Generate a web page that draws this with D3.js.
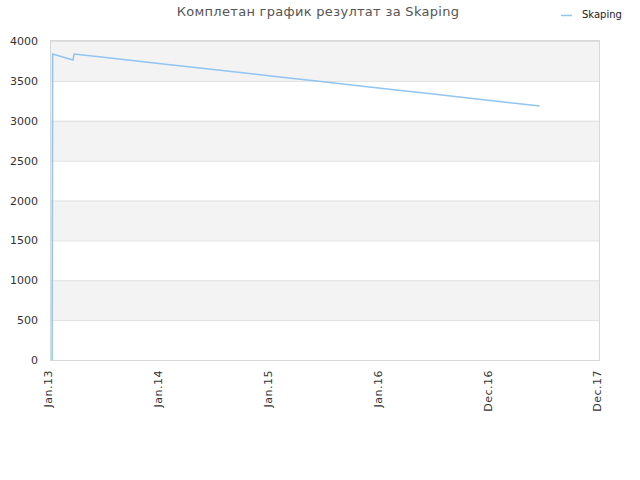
<!DOCTYPE html>
<html>
<head>
<meta charset="utf-8">
<title>Skaping</title>
<script src="https://d3js.org/d3.v7.min.js"></script>
<style>
  body { margin: 0; background: #fff; }
  svg { font-family: "DejaVu Sans", sans-serif; }
</style>
</head>
<body>
<svg id="chart" width="640" height="480"></svg>
<script>
// x values are positions on the tick axis (0 = Jan.13, 1 = Jan.14, ...)
let tickLabels = ["Jan.13", "Jan.14", "Jan.15", "Jan.16", "Dec.16", "Dec.17"];
let yTicks = [0, 500, 1000, 1500, 2000, 2500, 3000, 3500, 4000];
let posX = [0.01, 0.015, 0.2, 0.21, 0.5, 1.0, 1.5, 2.0, 2.5, 3.0, 3.5, 4.0, 4.45];
let scores = [0, 3837, 3762, 3837, 3792, 3715, 3639, 3562, 3485, 3408, 3331, 3254, 3185];

let svg = d3.select("#chart");
let m = {left: 51, right: 600, top: 41, bottom: 360};

let x = d3.scaleLinear().domain([0, 5]).range([m.left, m.right]);
let y = d3.scaleLinear().domain([0, 4000]).range([m.bottom, m.top]);

// alternating bands
for (let i = 1; i < yTicks.length; i += 2) {
    svg.append("rect")
        .attr("x", m.left).attr("width", m.right - m.left)
        .attr("y", y(yTicks[i + 1])).attr("height", y(yTicks[i]) - y(yTicks[i + 1]))
        .attr("fill", "#f3f3f3");
}

svg.selectAll(".grid").data(yTicks).enter().append("line")
    .attr("x1", m.left).attr("x2", m.right)
    .attr("y1", d => y(d) + 0.5).attr("y2", d => y(d) + 0.5)
    .attr("stroke", "#e0e0e0");

svg.append("rect")
    .attr("x", m.left - 0.5).attr("y", m.top - 0.5)
    .attr("width", m.right - m.left).attr("height", m.bottom - m.top + 1)
    .attr("fill", "none").attr("stroke", "#d8d8d8");

let yAxis = svg.append("g")
    .attr("transform", `translate(${m.left - 10},0)`)
    .call(d3.axisLeft(y).tickValues(yTicks).tickSize(0).tickFormat(d3.format("d")));
yAxis.select(".domain").remove();
yAxis.selectAll("text").attr("font-size", 11).attr("fill", "#333")
    .attr("font-family", "DejaVu Sans, sans-serif");

let xAxis = svg.append("g")
    .attr("transform", `translate(-3,${m.bottom + 10})`)
    .call(d3.axisBottom(x).tickValues(d3.range(tickLabels.length)).tickSize(0)
        .tickFormat(i => tickLabels[i]));
xAxis.select(".domain").remove();
xAxis.selectAll("text")
    .attr("font-size", 11).attr("fill", "#333")
    .attr("font-family", "DejaVu Sans, sans-serif")
    .attr("letter-spacing", 0.5)
    .attr("transform", "rotate(-90)")
    .attr("text-anchor", "end")
    .attr("x", 0).attr("y", 0).attr("dx", 0).attr("dy", "0.35em");

let line = d3.line().x((d, i) => x(posX[i])).y(d => y(d));
svg.append("path")
    .datum(scores)
    .attr("d", line)
    .attr("fill", "none")
    .attr("stroke", "#90c4f2")
    .attr("stroke-width", 1.5);

svg.append("text")
    .attr("x", 318).attr("y", 16)
    .attr("text-anchor", "middle")
    .attr("font-size", 13).attr("fill", "#555")
    .attr("letter-spacing", 0.3)
    .text("Комплетан график резултат за Skaping");

svg.append("line")
    .attr("x1", 561).attr("x2", 572).attr("y1", 15.5).attr("y2", 15.5)
    .attr("stroke", "#90c4f2").attr("stroke-width", 1.5);
svg.append("text")
    .attr("x", 582).attr("y", 18)
    .attr("font-size", 10).attr("fill", "#222")
    .text("Skaping");
</script>
</body>
</html>
